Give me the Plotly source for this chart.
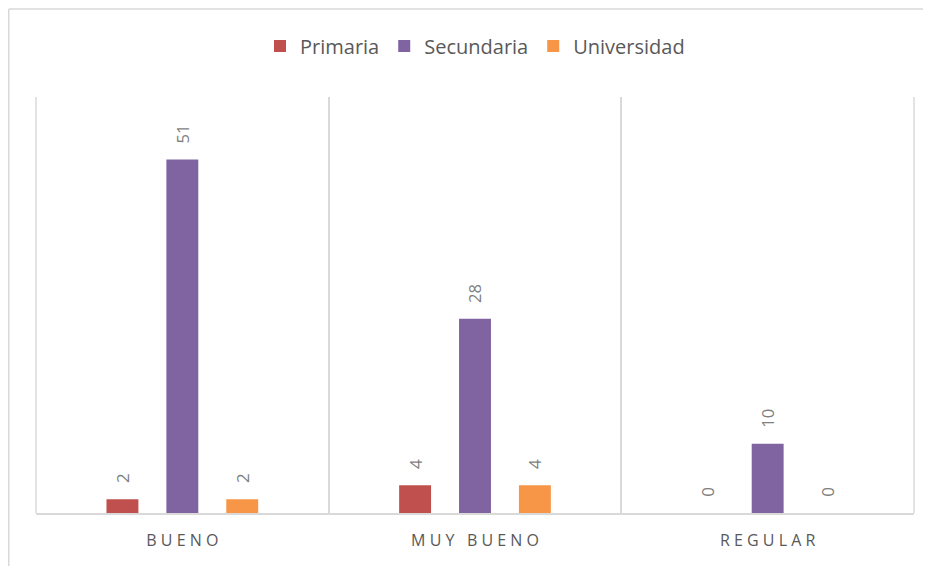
import plotly.graph_objects as go

categories = ["BUENO", "MUY BUENO", "REGULAR"]
series_names = ["Primaria", "Secundaria", "Universidad"]
primaria = [2, 4, 0]
secundaria = [51, 28, 10]
universidad = [2, 4, 0]
colors = ["#C0504D", "#8064A2", "#F79646"]

NB = "\u00a0"


def spaced(label):
    words = label.split(" ")
    return (NB * 3).join(NB.join(list(w)) for w in words)


tick_text = [spaced(c) for c in categories]

fig = go.Figure()
for name, vals, col in zip(series_names, [primaria, secundaria, universidad], colors):
    fig.add_trace(go.Bar(
        name=name,
        x=categories,
        y=vals,
        marker=dict(color=col, line=dict(width=0)),
        text=[NB * 3 + str(v) for v in vals],
        textposition="outside",
        textangle=-90,
        textfont=dict(family="Open Sans", size=17, color="#7F7F7F"),
        cliponaxis=False,
    ))

W, H = 931, 566
# page body has an 8px margin; compensate so the plot lands where the reference has it
L, R, T, B = 28, 25, 89, 61
pw = W - L - R
ph = H - T - B
grid = "#D9D9D9"

fig.update_layout(
    width=W, height=H,
    margin=dict(l=L, r=R, t=T, b=B, pad=0),
    paper_bgcolor="white",
    plot_bgcolor="white",
    barmode="group",
    bargap=0.386,
    bargroupgap=0.467,
    font=dict(family="Open Sans", color="#595959"),
    legend=dict(
        orientation="h",
        x=0.5, xanchor="center",
        y=(H - B - 38) / ph, yanchor="middle",
        font=dict(family="Open Sans", size=20, color="#595959"),
        itemwidth=30,
        traceorder="normal",
    ),
    xaxis=dict(
        type="category",
        tickmode="array",
        tickvals=categories,
        ticktext=tick_text,
        tickson="boundaries",
        ticks="",
        showgrid=True,
        gridcolor=grid,
        gridwidth=1.5,
        showline=True,
        linecolor=grid,
        linewidth=2,
        tickfont=dict(family="Open Sans", size=16, color="#595959"),
        ticklabelstandoff=12,
    ),
    yaxis=dict(
        range=[0, 60],
        showgrid=False,
        zeroline=False,
        showticklabels=False,
        ticks="",
        showline=False,
    ),
    shapes=[
        # outer category boundaries
        dict(type="line", xref="x domain", yref="y domain",
             x0=0, x1=0, y0=0, y1=1, line=dict(color=grid, width=1.5)),
        dict(type="line", xref="x domain", yref="y domain",
             x0=1, x1=1, y0=0, y1=1, line=dict(color=grid, width=1.5)),
        # chart-area border (top and left)
        dict(type="line", xref="paper", yref="paper",
             x0=(0.75 - L) / pw, x1=(W + 10 - L) / pw,
             y0=(H - B - 1) / ph, y1=(H - B - 1) / ph,
             line=dict(color=grid, width=1.5)),
        dict(type="line", xref="paper", yref="paper",
             x0=(0.75 - L) / pw, x1=(0.75 - L) / pw,
             y0=(H - B - 1) / ph, y1=-(B + 10) / ph,
             line=dict(color=grid, width=1.5)),
    ],
)

fig.write_html("out.html")
